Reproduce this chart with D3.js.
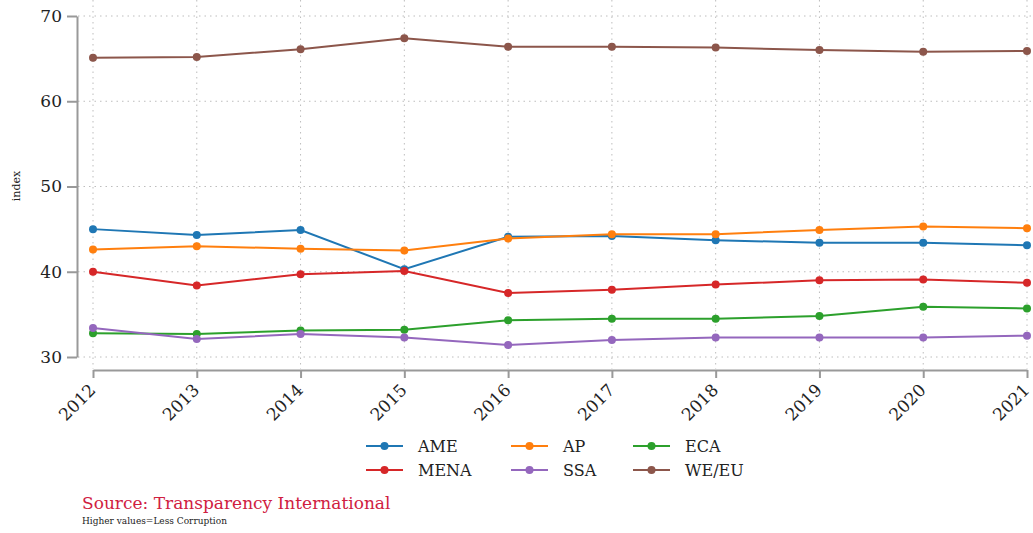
<!DOCTYPE html>
<html>
<head>
<meta charset="utf-8">
<script src="https://cdn.jsdelivr.net/npm/d3@7"></script>
<style>
  body { margin: 0; background: #fff; }
  text { font-family: "DejaVu Serif", "Liberation Serif", serif; }
</style>
</head>
<body>
<div id="chart"></div>
<script>
// Data
const years = [2012, 2013, 2014, 2015, 2016, 2017, 2018, 2019, 2020, 2021];
const regions = ["AME", "AP", "ECA", "MENA", "SSA", "WE/EU"];
const ame  = [45.0, 44.3, 44.9, 40.3, 44.1, 44.2, 43.7, 43.4, 43.4, 43.1];
const ap   = [42.6, 43.0, 42.7, 42.5, 43.9, 44.4, 44.4, 44.9, 45.3, 45.1];
const eca  = [32.8, 32.7, 33.1, 33.2, 34.3, 34.5, 34.5, 34.8, 35.9, 35.7];
const mena = [40.0, 38.4, 39.7, 40.1, 37.5, 37.9, 38.5, 39.0, 39.1, 38.7];
const ssa  = [33.4, 32.1, 32.7, 32.3, 31.4, 32.0, 32.3, 32.3, 32.3, 32.5];
const weeu = [65.1, 65.2, 66.1, 67.4, 66.4, 66.4, 66.3, 66.0, 65.8, 65.9];
const yTicks = [30, 40, 50, 60, 70];
const colors = ["#1f77b4", "#ff7f0e", "#2ca02c", "#d62728", "#9467bd", "#8c564b"];

const seriesValues = [ame, ap, eca, mena, ssa, weeu];
const series = regions.map((name, i) => ({
  name: name,
  color: colors[i],
  values: years.map((yr, j) => ({year: yr, value: seriesValues[i][j]}))
}));

const width = 1033, height = 533;

const svg = d3.select("#chart")
  .append("svg")
    .attr("width", width)
    .attr("height", height);

const x = d3.scaleLinear()
    .domain([2012, 2021])
    .range([93, 1027]);

const y = d3.scaleLinear()
    .domain([30, 70])
    .range([357, 16]);

// Gridlines
svg.append("g")
  .selectAll("line")
  .data(yTicks)
  .enter().append("line")
    .attr("x1", 78).attr("x2", width)
    .attr("y1", d => y(d)).attr("y2", d => y(d))
    .attr("stroke", "#bdbdbd")
    .attr("stroke-width", 1)
    .attr("stroke-dasharray", "1.5,4");

svg.append("g")
  .selectAll("line")
  .data(years)
  .enter().append("line")
    .attr("x1", d => x(d)).attr("x2", d => x(d))
    .attr("y1", 0).attr("y2", 369)
    .attr("stroke", "#bdbdbd")
    .attr("stroke-width", 1)
    .attr("stroke-dasharray", "1.5,4");

// Y axis
const yAxis = svg.append("g")
    .attr("transform", "translate(77,0)")
    .call(d3.axisLeft(y).tickValues(yTicks).tickSize(10).tickPadding(5).tickSizeOuter(0));
yAxis.select(".domain").attr("stroke", "#999").attr("stroke-width", 2);
yAxis.selectAll(".tick line").attr("stroke", "#999").attr("stroke-width", 2);
yAxis.selectAll("text")
    .style("font-size", "17px")
    .attr("fill", "#222");

// X axis
const xAxis = svg.append("g")
    .attr("transform", "translate(0,370)")
    .call(d3.axisBottom(x).tickValues(years).tickFormat(d3.format("d")).tickSize(8).tickSizeOuter(0));
xAxis.select(".domain").attr("stroke", "#999").attr("stroke-width", 2);
xAxis.selectAll(".tick line").attr("stroke", "#999").attr("stroke-width", 2);
xAxis.selectAll("text")
    .style("font-size", "17px")
    .attr("fill", "#222")
    .attr("text-anchor", "end")
    .attr("dy", "0.2em")
    .attr("transform", "translate(-7,11) rotate(-45)");

// Y axis title
svg.append("text")
    .attr("transform", "translate(20,186) rotate(-90)")
    .attr("text-anchor", "middle")
    .style("font-size", "11px")
    .attr("fill", "#222")
    .text("index");

// Lines and markers
const line = d3.line()
    .x(d => x(d.year))
    .y(d => y(d.value));

const groups = svg.append("g")
  .selectAll("g")
  .data(series)
  .enter().append("g");

groups.append("path")
    .attr("d", d => line(d.values))
    .attr("fill", "none")
    .attr("stroke", d => d.color)
    .attr("stroke-width", 2);

groups.selectAll("circle")
  .data(d => d.values.map(v => ({...v, color: d.color})))
  .enter().append("circle")
    .attr("cx", d => x(d.year))
    .attr("cy", d => y(d.value))
    .attr("r", 4)
    .attr("fill", d => d.color);

// Legend
const legendCols = [366, 511, 633];
const legendRows = [446, 470];
const legend = svg.append("g")
  .selectAll("g")
  .data(series)
  .enter().append("g")
    .attr("transform", (d, i) => `translate(${legendCols[i % 3]},${legendRows[Math.floor(i / 3)]})`);

legend.append("line")
    .attr("x1", 0).attr("x2", 37)
    .attr("stroke", d => d.color)
    .attr("stroke-width", 2);
legend.append("circle")
    .attr("cx", 18.5)
    .attr("r", 4)
    .attr("fill", d => d.color);
legend.append("text")
    .attr("x", 52)
    .attr("dy", "0.35em")
    .style("font-size", "16px")
    .attr("fill", "#222")
    .text(d => d.name);

// Notes
svg.append("text")
    .attr("x", 82).attr("y", 509)
    .style("font-size", "17px")
    .attr("fill", "#d0203f")
    .text("Source: Transparency International");

svg.append("text")
    .attr("x", 82).attr("y", 524)
    .style("font-size", "9px")
    .attr("fill", "#222")
    .text("Higher values=Less Corruption");
</script>
</body>
</html>
